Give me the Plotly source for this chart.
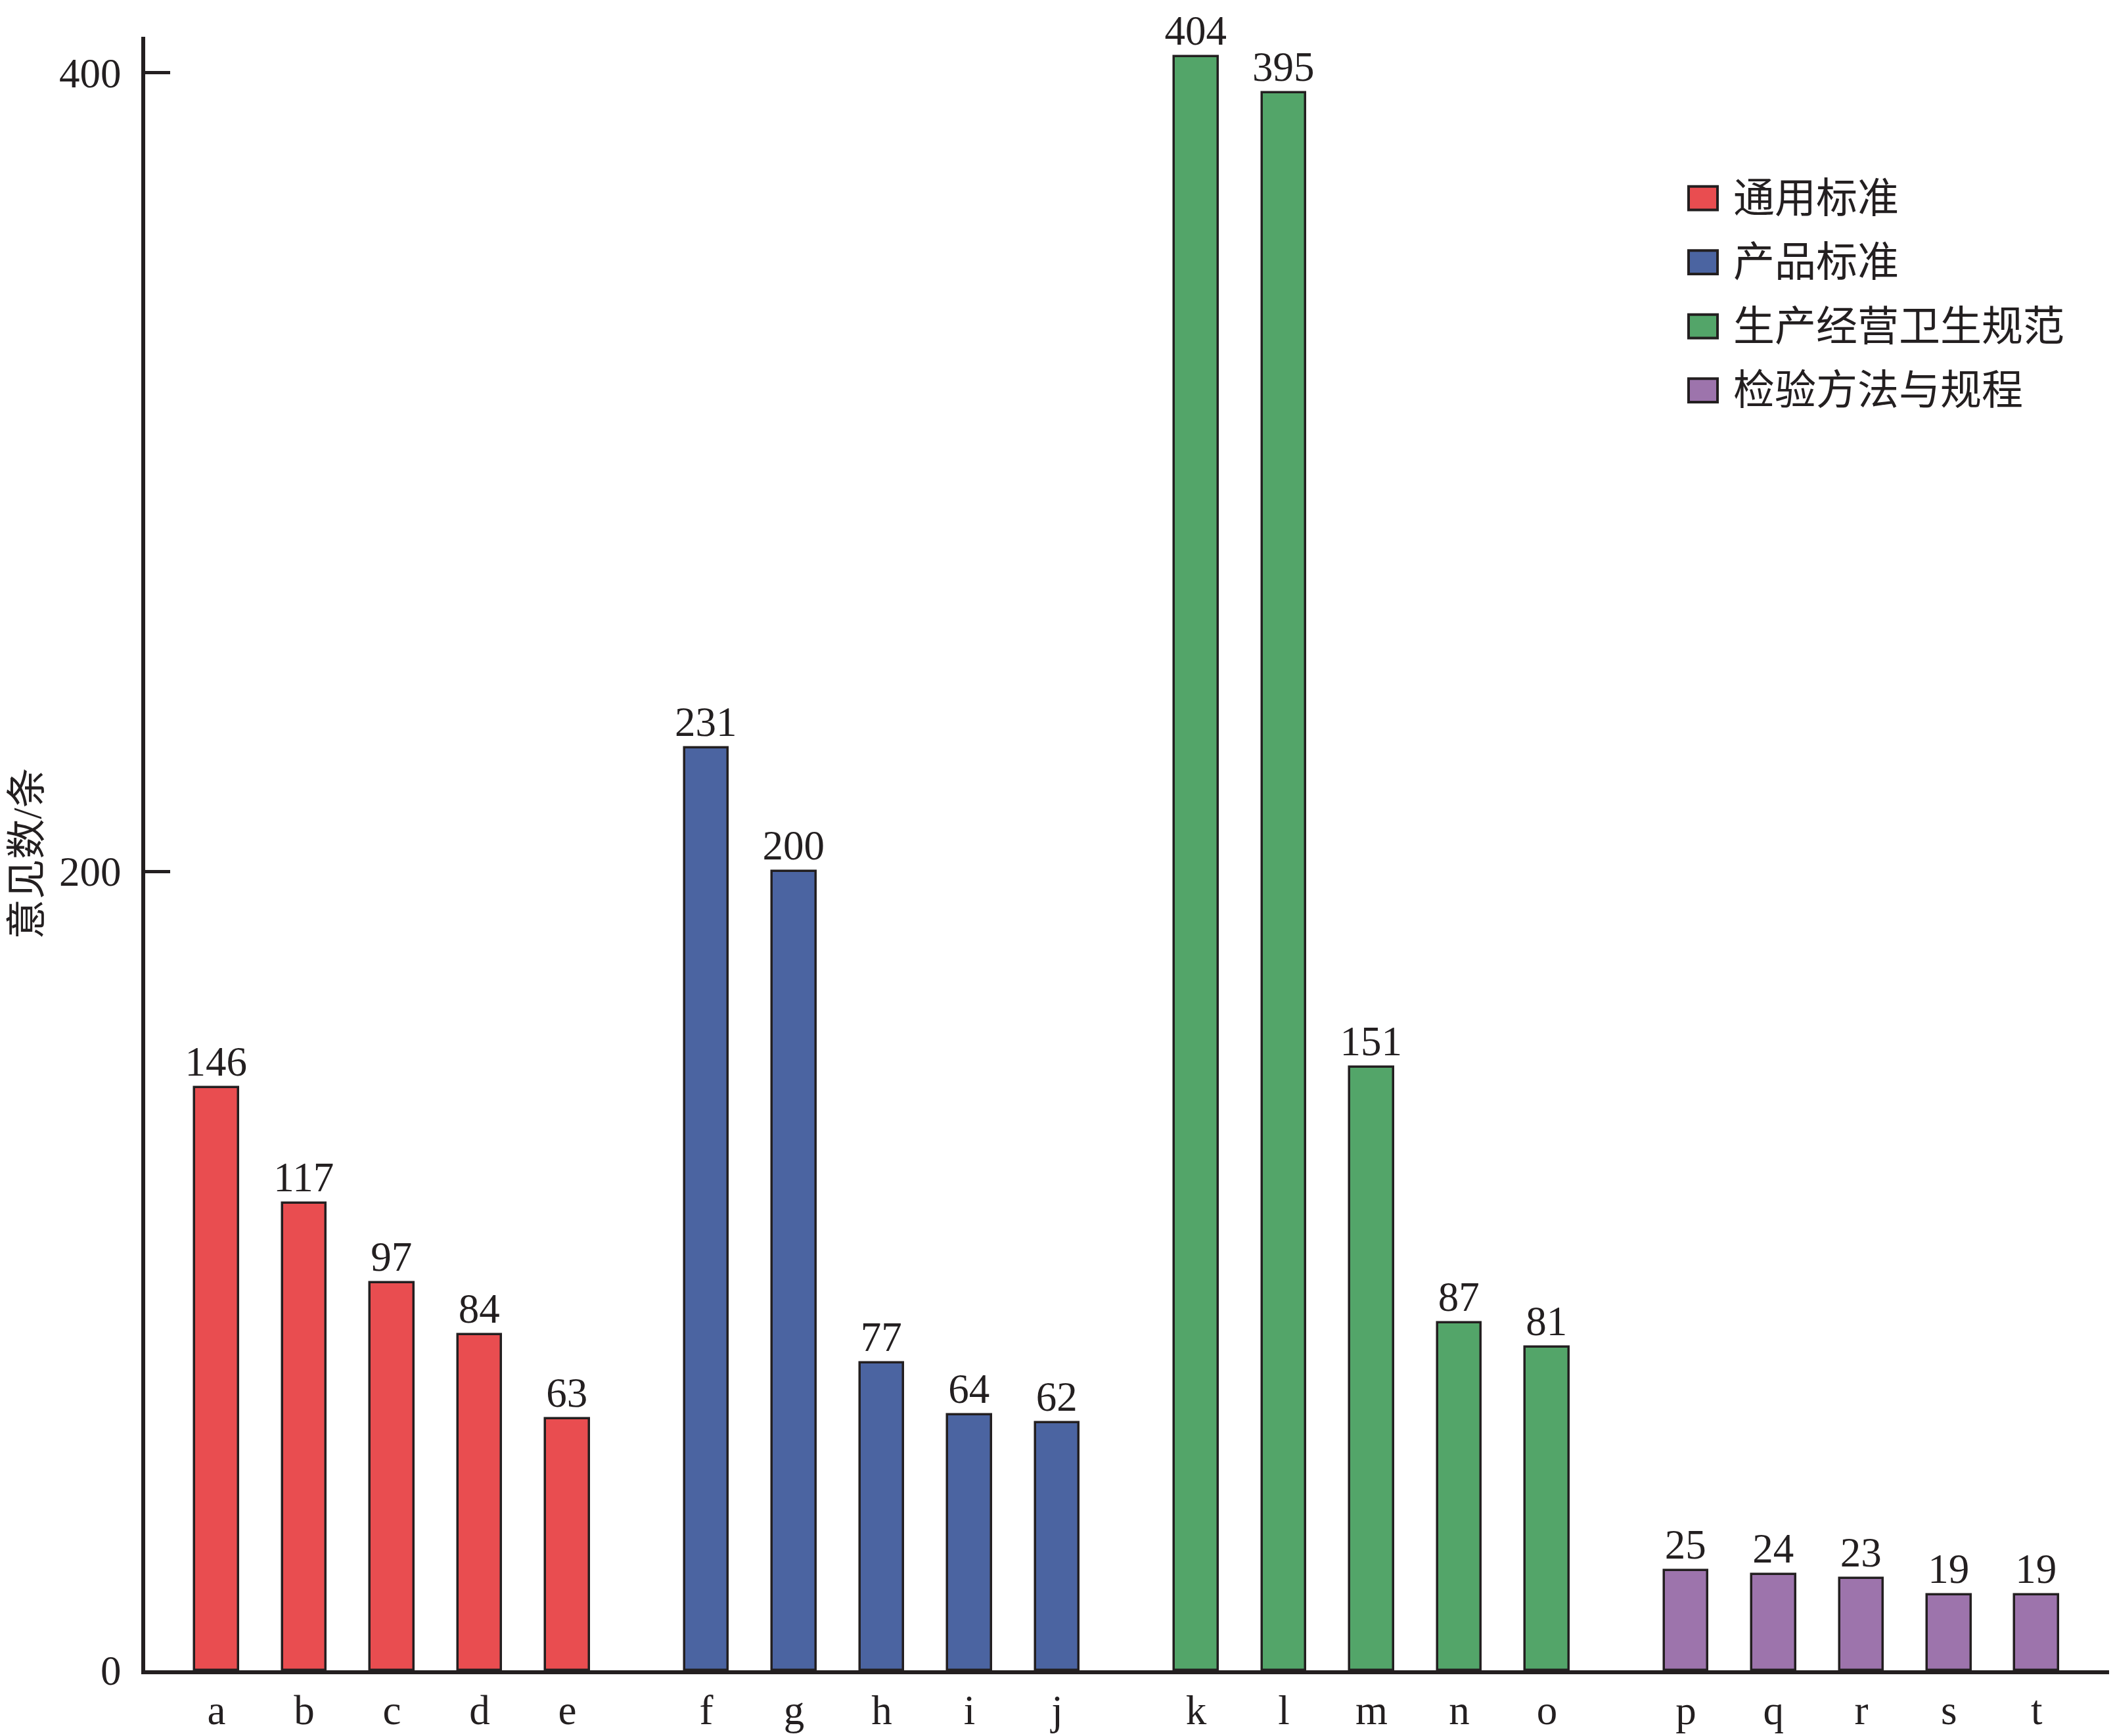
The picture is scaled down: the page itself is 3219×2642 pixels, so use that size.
import plotly.graph_objects as go

# Data
groups = ['通用标准', '产品标准', '生产经营卫生规范', '检验方法与规程']
colors = ['#E94D50', '#4B64A1', '#53A569', '#9D74AC']
letters = [['a', 'b', 'c', 'd', 'e'],
           ['f', 'g', 'h', 'i', 'j'],
           ['k', 'l', 'm', 'n', 'o'],
           ['p', 'q', 'r', 's', 't']]
values = [[146, 117, 97, 84, 63],
          [231, 200, 77, 64, 62],
          [404, 395, 151, 87, 81],
          [25, 24, 23, 19, 19]]

ink = '#231F20'
serif = 'Liberation Serif, Noto Sans CJK SC'
group_gap = 0.584  # extra space between groups, in bar slots

fig = go.Figure()

tickvals, ticktext = [], []
k = 0
for g, name in enumerate(groups):
    xs = [k + i + g * group_gap for i in range(len(values[g]))]
    k += len(values[g])
    tickvals += xs
    ticktext += letters[g]
    fig.add_trace(go.Bar(
        x=xs, y=values[g], name=name,
        width=0.5,
        marker=dict(color=colors[g], line=dict(color=ink, width=3.5)),
        text=values[g], textposition='outside',
        textfont=dict(family=serif, size=63, color=ink),
        constraintext='none', cliponaxis=False,
        showlegend=False,
    ))

# Hand-made legend (plotly's bar legend swatch is too small)
plot_l, plot_r, plot_t, plot_b = 213, 3202, 48, 2547
W, H = 3219, 2642
def px_x(p):
    return (p - plot_l) / (plot_r - plot_l)
def px_y(p):
    return (plot_b - p) / (plot_b - plot_t)

leg_x, leg_y0, leg_dy = 2584, 295, 98
sw_w, sw_h = 44, 36
for i, name in enumerate(groups):
    cy = leg_y0 + i * leg_dy
    fig.add_shape(type='rect', xref='paper', yref='paper',
                  x0=px_x(leg_x - sw_w / 2), x1=px_x(leg_x + sw_w / 2),
                  y0=px_y(cy + sw_h / 2), y1=px_y(cy - sw_h / 2),
                  fillcolor=colors[i], line=dict(color=ink, width=4))
    fig.add_annotation(xref='paper', yref='paper',
                       x=px_x(leg_x + 44), y=px_y(cy),
                       xanchor='left', yanchor='middle', showarrow=False,
                       text=name, font=dict(family=serif, size=63, color=ink))

fig.update_layout(
    width=W, height=H,
    margin=dict(l=plot_l, r=W - plot_r, t=plot_t, b=H - plot_b),
    plot_bgcolor='white', paper_bgcolor='white',
    font=dict(family=serif, size=62, color=ink),
    bargap=0,
)

fig.update_xaxes(
    range=[-0.813, 21.577],
    tickvals=tickvals, ticktext=ticktext,
    ticks='', showline=True, linewidth=6, linecolor=ink,
    showgrid=False, zeroline=False,
    tickfont=dict(family=serif, size=63, color=ink),
)
fig.update_yaxes(
    range=[0, 409],
    tickvals=[0, 200, 400],
    ticks='inside', ticklen=38, tickwidth=5, tickcolor=ink,
    showline=True, linewidth=6, linecolor=ink,
    showgrid=False, zeroline=False,
    tickfont=dict(family=serif, size=63, color=ink),
    ticklabelstandoff=18,
    title=dict(text='意见数/条', standoff=25,
               font=dict(family=serif, size=61, color=ink)),
)

fig.write_html('out.html')
